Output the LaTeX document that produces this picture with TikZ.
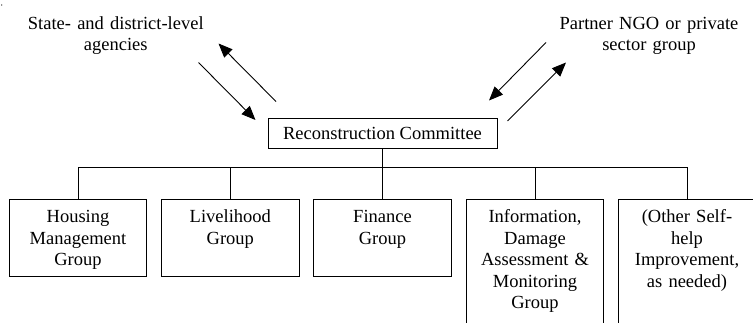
\documentclass[tikz,border=0pt]{standalone}
\usepackage{fontspec}
\setmainfont{Liberation Serif}
\usetikzlibrary{arrows.meta}
\begin{document}
\begin{tikzpicture}[x=1pt,y=-1pt,
  font=\fontsize{18.5}{21.5}\selectfont,
  box/.style={draw, line width=1pt, minimum width=137.4pt, minimum height=77.4pt, inner sep=0pt},
  lbl/.style={text width=135pt, align=center, anchor=base, inner sep=0pt},
  arr/.style={line width=0.9pt, -{Triangle[length=14pt,width=11.5pt]}},
  link/.style={line width=1pt}]
\useasboundingbox (0,0) rectangle (753,322);
\clip (0,0) rectangle (753,322);
% stray dot
\fill (1.7,5) circle (0.6pt);
% top labels
\node[lbl, text width=200pt] (sa) at (115.8,29) {State- and district-level\\ agencies};
\node[lbl, text width=200pt] (pn) at (649,29) {Partner NGO or private\\ sector group};
% committee
\node[draw, line width=1pt, minimum width=229pt, minimum height=30pt, inner sep=0pt] (rc) at (382.5,133) {Reconstruction Committee};
% group boxes
\node[box] (b1) at (78,238) {};
\node[box] (b2) at (230.3,238) {};
\node[box] (b3) at (382.5,238) {};
\node[box, minimum height=140pt] (b4) at (535,269.3) {};
\node[box, minimum height=140pt] (b5) at (687,269.3) {};
\node[lbl] (t1) at ([yshift=-23.7pt]b1.north) {Housing\\ Management\\ Group};
\node[lbl] (t2) at ([yshift=-23.7pt]b2.north) {Livelihood\\ Group};
\node[lbl] (t3) at ([yshift=-23.7pt]b3.north) {Finance\\ Group};
\node[lbl] (t4) at ([yshift=-23.7pt]b4.north) {Information,\\ Damage\\ Assessment \&\\ Monitoring\\ Group};
\node[lbl] (t5) at ([yshift=-23.7pt]b5.north) {(Other Self-\\ help\\ Improvement,\\ as needed)};
% arrows
\coordinate (a1s) at (198.5,62.5);  \coordinate (a1e) at (255.5,120);
\coordinate (a2s) at (276,101.5);   \coordinate (a2e) at (218.5,43.5);
\coordinate (a3s) at (546,42.5);    \coordinate (a3e) at (489,100.5);
\coordinate (a4s) at (507.5,121);   \coordinate (a4e) at (566,62.5);
\draw[arr] (a1s) -- (a1e);
\draw[arr] (a2s) -- (a2e);
\draw[arr] (a3s) -- (a3e);
\draw[arr] (a4s) -- (a4e);
% tree
\coordinate (bus) at (382.5,167.5);
\draw[link] (rc.south) -- (b3.north);
\draw[link] (b1.north) |- (b5.north |- bus) -- (b5.north);
\draw[link] (b2.north) -- (b2.north |- bus);
\draw[link] (b4.north) -- (b4.north |- bus);
\end{tikzpicture}
\end{document}
